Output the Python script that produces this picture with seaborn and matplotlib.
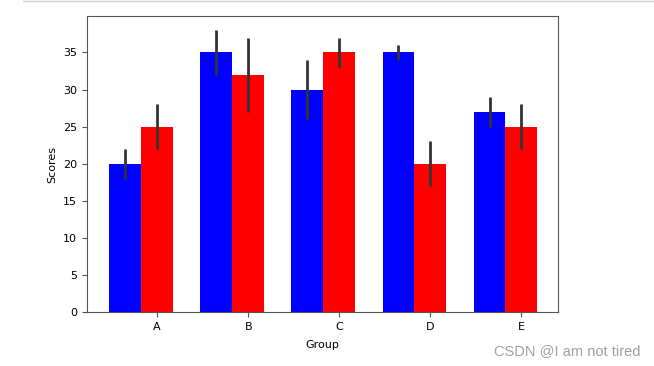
import numpy as np
import pandas as pd
import matplotlib
matplotlib.use("Agg")
from matplotlib import pyplot as plt
from matplotlib.lines import Line2D
import seaborn as sns

# Data
groups = ["A", "B", "C", "D", "E"]
blue_means = [20, 35, 30, 35, 27]
red_means = [25, 32, 35, 20, 25]
blue_err = [2, 3, 4, 1, 2]
red_err = [3, 5, 2, 3, 3]
series = ["blue", "red"]

df = pd.DataFrame({
    "Group": groups * 2,
    "Scores": blue_means + red_means,
    "err": blue_err + red_err,
    "series": [series[0]] * 5 + [series[1]] * 5,
})

fig = plt.figure(figsize=(6.54, 3.66), dpi=100)
ax = fig.add_axes([0.133, 0.1475, 0.72, 0.8085])

sns.barplot(data=df, x="Group", y="Scores", hue="series", order=groups,
            hue_order=series, palette=["#0000ff", "#ff0000"], width=0.7,
            errorbar=None, legend=False, saturation=1, ax=ax,
            edgecolor="none", linewidth=0)

# error bars at bar centres
for patch, (_, row) in zip(ax.patches, df.iterrows()):
    xc = patch.get_x() + patch.get_width() / 2
    ax.errorbar(xc, row["Scores"], yerr=row["err"], fmt="none",
                ecolor="#333333", elinewidth=2, capsize=0)

# ticks sit under the red bars, like the original
red_centres = [p.get_x() + p.get_width() / 2 for p in ax.patches[5:10]]
ax.set_xticks(red_centres)
ax.set_xticklabels(groups, fontsize=8)
ax.set_xlim(-0.595, 4.575)
ax.set_ylim(0, 39.9)
ax.set_yticks(range(0, 36, 5))
ax.tick_params(axis="y", labelsize=8)
ax.tick_params(length=3.5, color="#555555")
ax.set_xlabel("Group", fontsize=8, labelpad=6)
ax.set_ylabel("Scores", fontsize=8)
for s in ax.spines.values():
    s.set_color("#555555")
    s.set_linewidth(0.8)

fig.text(0.98, 0.04, "CSDN @I am not tired", ha="right", va="center",
         fontsize=10.5, color="#a0a0a0", family="Liberation Sans")
fig.add_artist(Line2D([0.035, 1.0], [0.997, 0.997], color="#d0d0d0", lw=1))

plt.savefig("out.png", dpi=100)
